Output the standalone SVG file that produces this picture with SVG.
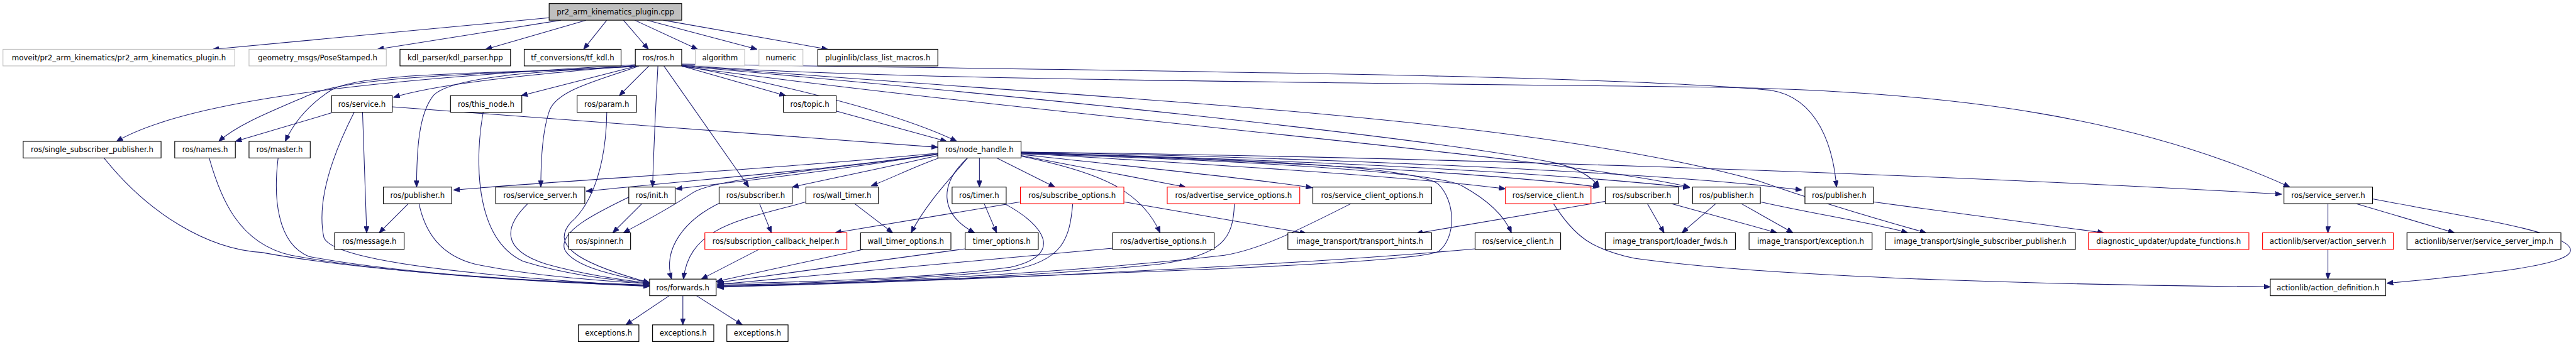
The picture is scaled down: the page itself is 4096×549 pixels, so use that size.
<svg xmlns="http://www.w3.org/2000/svg" width="4096" height="549" viewBox="0 0 4096 549">
<defs>
<marker id="ah" viewBox="0 0 10 8" refX="10" refY="4" markerWidth="11" markerHeight="8.5" markerUnits="userSpaceOnUse" orient="auto"><path d="M0,0 L10,4 L0,8 z" fill="#191970" stroke="#191970" stroke-width="0.8"/></marker>
</defs>
<style>
.node rect{fill:#ffffff;stroke:#000000;stroke-width:1.2}
.node.grey rect{stroke:#bfbfbf}
.node.red rect{stroke:#ff0000}
.node.root rect{fill:#bfbfbf}
.node text{font-family:"DejaVu Sans","Liberation Sans",sans-serif;font-size:12.5px;fill:#000;text-anchor:middle}
#edges path{fill:none;stroke:#191970;stroke-width:1.1;marker-end:url(#ah)}
</style>
<rect width="4096" height="549" fill="#ffffff"/>
<g transform="scale(0.945)">
<g id="edges">
<path d="M924,30 L358,83"/>
<path d="M944,34 L635,83"/>
<path d="M986,34 L817,83"/>
<path d="M1021,34 L982,83"/>
<path d="M1049,34 L1091,83"/>
<path d="M1068,34 L1174,83"/>
<path d="M1089,34 L1274,83"/>
<path d="M1116,34 L1393,83"/>
<path d="M1069,110 C900,125 740,140 662,164"/>
<path d="M1072,111 L877,161"/>
<path d="M1092,111 L1042,161"/>
<path d="M1147,111 L1322,161"/>
<path d="M1069,109 C700,130 330,160 196,238"/>
<path d="M1069,111 C850,125 600,125 520,160 C450,190 400,210 368,238"/>
<path d="M1069,112 C850,125 620,120 560,150 C520,175 495,205 480,238"/>
<path d="M1069,112 C900,120 760,130 730,160 C705,190 701,250 701,315"/>
<path d="M1075,111 C1010,135 940,150 925,185 C912,220 910,270 910,315"/>
<path d="M1107,111 C1103,180 1100,250 1098,315"/>
<path d="M1117,111 L1260,315"/>
<path d="M1147,110 C1300,140 1500,185 1610,238"/>
<path d="M1147,108 C1800,118 2700,125 2980,152 C3060,165 3085,250 3090,315"/>
<path d="M1147,109 C1400,135 2400,140 2900,147 C3300,155 3600,200 3853,315"/>
<path d="M1147,110 C1800,165 2550,190 2960,305 C3060,340 3180,375 3241,392"/>
<path d="M1147,111 C1700,160 2400,230 2620,275 C2660,285 2680,300 2691,315"/>
<path d="M1147,112 C1800,200 2600,260 2843,315"/>
<path d="M558,190 L396,238"/>
<path d="M660,180 L1578,248"/>
<path d="M610,189 C612,250 615,330 617,392"/>
<path d="M596,189 C570,240 530,330 545,400 C560,440 800,465 1093,482"/>
<path d="M175,266 C250,360 350,420 440,425 C600,455 900,475 1093,482"/>
<path d="M352,266 C370,330 400,410 490,430 C650,460 900,475 1093,481"/>
<path d="M468,266 C460,330 465,410 520,432 C680,462 900,474 1093,480"/>
<path d="M705,343 C715,390 740,430 800,445 C900,465 1000,472 1093,478"/>
<path d="M813,189 C800,260 795,400 880,440 C950,462 1020,470 1093,478"/>
<path d="M888,343 C850,380 840,420 920,445 C980,462 1040,470 1093,477"/>
<path d="M1021,189 C1020,270 1000,340 960,375 C930,410 960,440 1093,476"/>
<path d="M1058,332 C1000,360 940,390 950,420 C965,450 1040,465 1093,476"/>
<path d="M1080,343 L1031,392"/>
<path d="M1578,258 C1300,285 1000,300 763,320"/>
<path d="M1578,259 C1400,285 1200,300 986,322"/>
<path d="M1578,259 C1450,280 1300,300 1137,318"/>
<path d="M1578,260 C1400,285 1200,300 1165,325 C1120,355 1080,375 1049,392"/>
<path d="M1578,262 C1500,280 1400,300 1333,315"/>
<path d="M1580,266 C1540,280 1500,300 1466,313"/>
<path d="M1628,266 C1600,300 1560,340 1533,392"/>
<path d="M1648,266 L1648,315"/>
<path d="M1628,266 C1580,310 1580,360 1640,392"/>
<path d="M1677,266 L1775,315"/>
<path d="M1718,263 C1850,290 1920,320 1952,392"/>
<path d="M1718,262 L1995,315"/>
<path d="M1718,260 C1900,280 2100,300 2208,316"/>
<path d="M1718,258 C2000,275 2350,295 2533,318"/>
<path d="M1718,259 C2100,270 2420,290 2460,313 C2500,335 2530,360 2543,392"/>
<path d="M1718,258 C2100,268 2380,280 2420,310 C2450,340 2450,400 2421,423 C2380,450 1500,470 1207,484"/>
<path d="M1718,257 C2100,270 2500,290 2691,315"/>
<path d="M1718,257 C2200,270 2600,290 2843,316"/>
<path d="M1718,256 C2200,265 2800,290 3032,320"/>
<path d="M1718,256 C2300,262 3200,290 3839,327"/>
<path d="M1407,187 L1593,238"/>
<path d="M687,343 L638,392"/>
<path d="M1278,343 L1298,392"/>
<path d="M1215,340 C1150,370 1115,420 1130,470"/>
<path d="M1438,343 L1502,392"/>
<path d="M1356,340 C1250,370 1160,380 1150,470"/>
<path d="M1656,343 L1677,392"/>
<path d="M1690,343 C1760,380 1790,430 1700,450 C1550,470 1350,475 1207,478"/>
<path d="M1717,340 L1405,392"/>
<path d="M1805,343 C1800,400 1790,440 1700,455 C1550,470 1350,478 1207,480"/>
<path d="M1891,340 L2198,393"/>
<path d="M2077,343 C2075,400 2060,430 1950,445 C1700,470 1400,478 1207,481"/>
<path d="M1872,418 L1207,479"/>
<path d="M1277,420 L1180,470"/>
<path d="M1452,420 L1205,474"/>
<path d="M1624,419 L1207,476"/>
<path d="M2273,343 C2180,390 2120,420 2060,430 C1800,460 1400,480 1207,482"/>
<path d="M2482,419 C2200,445 1600,475 1207,483"/>
<path d="M2702,339 L2383,393"/>
<path d="M2772,343 L2800,392"/>
<path d="M2813,343 L2990,392"/>
<path d="M2887,343 L2830,392"/>
<path d="M2930,343 L3017,392"/>
<path d="M2962,340 C3050,360 3150,375 3210,392"/>
<path d="M3152,340 L3540,392"/>
<path d="M3917,343 L3917,392"/>
<path d="M3965,343 L4130,392"/>
<path d="M3992,335 C4150,365 4320,390 4325,420 C4330,445 4200,460 4016,477"/>
<path d="M3917,420 L3917,470"/>
<path d="M2614,343 C2650,400 2680,420 2750,435 C3000,470 3500,480 3820,483"/>
<path d="M1126,498 L1053,547"/>
<path d="M1149,498 L1149,547"/>
<path d="M1172,498 L1249,547"/>
</g>
<g id="n_root" class="node root"><rect x="924" y="6" width="223" height="28"/><text x="1035.5" y="24.5">pr2_arm_kinematics_plugin.cpp</text></g>
<g id="n_moveit" class="node grey"><rect x="5" y="83" width="390" height="28"/><text x="200" y="101.5">moveit/pr2_arm_kinematics/pr2_arm_kinematics_plugin.h</text></g>
<g id="n_geom" class="node grey"><rect x="419" y="83" width="231" height="28"/><text x="534.5" y="101.5">geometry_msgs/PoseStamped.h</text></g>
<g id="n_kdl" class="node"><rect x="673" y="83" width="186" height="28"/><text x="766" y="101.5">kdl_parser/kdl_parser.hpp</text></g>
<g id="n_tfkdl" class="node"><rect x="882" y="83" width="163" height="28"/><text x="963.5" y="101.5">tf_conversions/tf_kdl.h</text></g>
<g id="n_ros" class="node"><rect x="1069" y="83" width="78" height="28"/><text x="1108" y="101.5">ros/ros.h</text></g>
<g id="n_alg" class="node grey"><rect x="1170" y="83" width="83" height="28"/><text x="1211.5" y="101.5">algorithm</text></g>
<g id="n_num" class="node grey"><rect x="1277" y="83" width="74" height="28"/><text x="1314" y="101.5">numeric</text></g>
<g id="n_plug" class="node"><rect x="1376" y="83" width="202" height="28"/><text x="1477" y="101.5">pluginlib/class_list_macros.h</text></g>
<g id="n_service" class="node"><rect x="558" y="161" width="102" height="28"/><text x="609" y="179.5">ros/service.h</text></g>
<g id="n_thisnode" class="node"><rect x="758" y="161" width="120" height="28"/><text x="818" y="179.5">ros/this_node.h</text></g>
<g id="n_param" class="node"><rect x="971" y="161" width="100" height="28"/><text x="1021" y="179.5">ros/param.h</text></g>
<g id="n_topic" class="node"><rect x="1318" y="161" width="89" height="28"/><text x="1362.5" y="179.5">ros/topic.h</text></g>
<g id="n_ssp" class="node"><rect x="39" y="238" width="232" height="28"/><text x="155" y="256.5">ros/single_subscriber_publisher.h</text></g>
<g id="n_names" class="node"><rect x="294" y="238" width="102" height="28"/><text x="345" y="256.5">ros/names.h</text></g>
<g id="n_master" class="node"><rect x="419" y="238" width="103" height="28"/><text x="470.5" y="256.5">ros/master.h</text></g>
<g id="n_nh" class="node"><rect x="1578" y="238" width="140" height="28"/><text x="1648" y="256.5">ros/node_handle.h</text></g>
<g id="n_pub1" class="node"><rect x="645" y="315" width="115" height="28"/><text x="702.5" y="333.5">ros/publisher.h</text></g>
<g id="n_ss1" class="node"><rect x="834" y="315" width="150" height="28"/><text x="909" y="333.5">ros/service_server.h</text></g>
<g id="n_init" class="node"><rect x="1058" y="315" width="78" height="28"/><text x="1097" y="333.5">ros/init.h</text></g>
<g id="n_sub1" class="node"><rect x="1210" y="315" width="123" height="28"/><text x="1271.5" y="333.5">ros/subscriber.h</text></g>
<g id="n_wt" class="node"><rect x="1356" y="315" width="122" height="28"/><text x="1417" y="333.5">ros/wall_timer.h</text></g>
<g id="n_timer" class="node"><rect x="1602" y="315" width="91" height="28"/><text x="1647.5" y="333.5">ros/timer.h</text></g>
<g id="n_subopt" class="node red"><rect x="1717" y="315" width="174" height="28"/><text x="1804" y="333.5">ros/subscribe_options.h</text></g>
<g id="n_advsrv" class="node red"><rect x="1964" y="315" width="223" height="28"/><text x="2075.5" y="333.5">ros/advertise_service_options.h</text></g>
<g id="n_scopt" class="node"><rect x="2209" y="315" width="200" height="28"/><text x="2309" y="333.5">ros/service_client_options.h</text></g>
<g id="n_scred" class="node red"><rect x="2533" y="315" width="144" height="28"/><text x="2605" y="333.5">ros/service_client.h</text></g>
<g id="n_sub2" class="node"><rect x="2701" y="315" width="123" height="28"/><text x="2762.5" y="333.5">ros/subscriber.h</text></g>
<g id="n_pub2" class="node"><rect x="2848" y="315" width="114" height="28"/><text x="2905" y="333.5">ros/publisher.h</text></g>
<g id="n_pub3" class="node"><rect x="3037" y="315" width="115" height="28"/><text x="3094.5" y="333.5">ros/publisher.h</text></g>
<g id="n_ss2" class="node"><rect x="3843" y="315" width="149" height="28"/><text x="3917.5" y="333.5">ros/service_server.h</text></g>
<g id="n_msg" class="node"><rect x="563" y="392" width="117" height="28"/><text x="621.5" y="410.5">ros/message.h</text></g>
<g id="n_spin" class="node"><rect x="957" y="392" width="104" height="28"/><text x="1009" y="410.5">ros/spinner.h</text></g>
<g id="n_sch" class="node red"><rect x="1186" y="392" width="239" height="28"/><text x="1305.5" y="410.5">ros/subscription_callback_helper.h</text></g>
<g id="n_wto" class="node"><rect x="1448" y="392" width="152" height="28"/><text x="1524" y="410.5">wall_timer_options.h</text></g>
<g id="n_to" class="node"><rect x="1624" y="392" width="123" height="28"/><text x="1685.5" y="410.5">timer_options.h</text></g>
<g id="n_advopt" class="node"><rect x="1872" y="392" width="171" height="28"/><text x="1957.5" y="410.5">ros/advertise_options.h</text></g>
<g id="n_th" class="node"><rect x="2167" y="392" width="242" height="28"/><text x="2288" y="410.5">image_transport/transport_hints.h</text></g>
<g id="n_sc" class="node"><rect x="2482" y="392" width="144" height="28"/><text x="2554" y="410.5">ros/service_client.h</text></g>
<g id="n_lf" class="node"><rect x="2701" y="392" width="219" height="28"/><text x="2810.5" y="410.5">image_transport/loader_fwds.h</text></g>
<g id="n_exc" class="node"><rect x="2943" y="392" width="207" height="28"/><text x="3046.5" y="410.5">image_transport/exception.h</text></g>
<g id="n_issp" class="node"><rect x="3172" y="392" width="320" height="28"/><text x="3332" y="410.5">image_transport/single_subscriber_publisher.h</text></g>
<g id="n_uf" class="node red"><rect x="3514" y="392" width="270" height="28"/><text x="3649" y="410.5">diagnostic_updater/update_functions.h</text></g>
<g id="n_as" class="node red"><rect x="3807" y="392" width="220" height="28"/><text x="3917" y="410.5">actionlib/server/action_server.h</text></g>
<g id="n_ssi" class="node"><rect x="4050" y="392" width="259" height="28"/><text x="4179.5" y="410.5">actionlib/server/service_server_imp.h</text></g>
<g id="n_fwd" class="node"><rect x="1093" y="470" width="112" height="28"/><text x="1149" y="488.5">ros/forwards.h</text></g>
<g id="n_ad" class="node"><rect x="3820" y="470" width="194" height="28"/><text x="3917" y="488.5">actionlib/action_definition.h</text></g>
<g id="n_e1" class="node"><rect x="973" y="547" width="102" height="28"/><text x="1024" y="565.5">exceptions.h</text></g>
<g id="n_e2" class="node"><rect x="1098" y="547" width="103" height="28"/><text x="1149.5" y="565.5">exceptions.h</text></g>
<g id="n_e3" class="node"><rect x="1223" y="547" width="103" height="28"/><text x="1274.5" y="565.5">exceptions.h</text></g>
</g>
</svg>
